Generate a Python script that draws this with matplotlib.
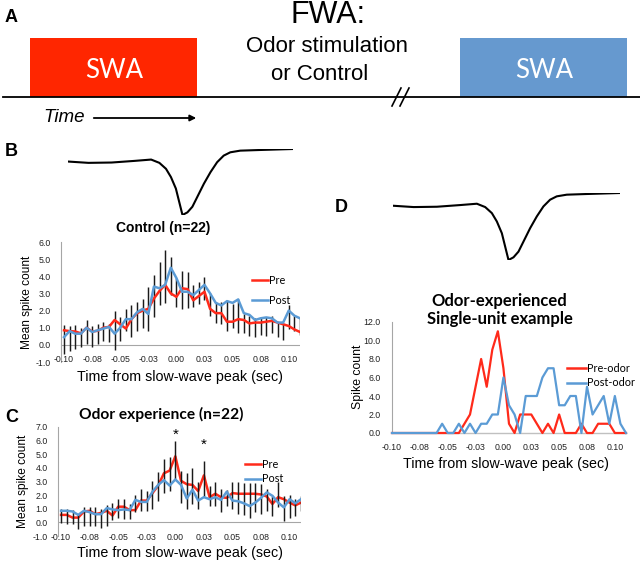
import matplotlib
matplotlib.use('Agg')
import matplotlib.pyplot as plt
from matplotlib.patches import Rectangle
import matplotlib.transforms as mtransforms

W, H = 640, 565

# ---------------- data ----------------
bin_times = [-0.100, -0.095, -0.090, -0.085, -0.080, -0.075, -0.070, -0.065, -0.060, -0.055,
             -0.050, -0.045, -0.040, -0.035, -0.030, -0.025, -0.020, -0.015, -0.010, -0.005,
             0.000, 0.005, 0.010, 0.015, 0.020, 0.025, 0.030, 0.035, 0.040, 0.045,
             0.050, 0.055, 0.060, 0.065, 0.070, 0.075, 0.080, 0.085, 0.090, 0.095,
             0.100, 0.105, 0.110]
xtick_vals = [-0.100, -0.075, -0.050, -0.025, 0.000, 0.025, 0.050, 0.075, 0.100]
xtick_labels = ['-0.10', '-0.08', '-0.05', '-0.03', '0.00', '0.03', '0.05', '0.08', '0.10']

ctrl_pre = [0.85, 0.8, 0.78, 0.67, 1.0, 0.78, 0.82, 1.0, 1.05, 1.45, 1.2, 0.95, 1.5, 1.85, 2.0,
            2.1, 2.7, 3.15, 3.5, 3.0, 2.8, 3.3, 3.25, 2.6, 2.85, 3.1, 2.1, 1.85, 1.85, 1.35,
            1.35, 1.5, 1.45, 1.25, 1.3, 1.3, 1.35, 1.4, 1.3, 1.2, 1.1, 0.9, 0.75]
ctrl_post = [0.45, 0.8, 0.65, 0.65, 1.0, 0.75, 0.85, 0.95, 1.05, 0.65, 1.0, 1.5, 1.5, 1.9, 2.1,
             1.8, 3.4, 3.3, 3.5, 4.5, 3.9, 3.1, 3.1, 2.9, 3.2, 3.5, 3.0, 2.45, 2.3, 2.55,
             2.45, 2.65, 1.85, 1.75, 1.45, 1.55, 1.6, 1.55, 1.3, 1.3, 2.0, 1.7, 1.55]
ctrl_err_hi = [1.15, 1.1, 1.15, 1.0, 1.45, 1.1, 1.2, 1.35, 1.2, 1.95, 1.6, 2.1, 2.3, 2.5, 2.7,
               3.4, 4.05, 4.85, 5.55, 5.1, 3.9, 4.3, 4.25, 3.5, 3.65, 3.95, 3.0, 2.5, 2.5, 2.6,
               2.4, 2.7, 1.8, 1.7, 1.55, 1.6, 1.65, 1.7, 1.35, 1.3, 2.35, 1.7, 1.6]
ctrl_err_lo = [-0.55, -0.35, -0.25, -0.15, 0.05, -0.15, 0.05, 0.25, 0.15, -0.3, 0.2, 0.8, 0.45,
               0.8, 1.0, 0.8, 1.6, 2.3, 2.45, 2.9, 2.2, 2.1, 2.15, 2.2, 2.4, 2.6, 1.7, 1.3, 1.2,
               0.8, 1.0, 0.7, 0.7, 0.5, 0.45, 0.6, 0.5, 0.7, 0.45, 0.3, 0.9, 0.8, 0.6]

odor_pre = [0.55, 0.55, 0.35, 0.35, 0.8, 0.85, 0.6, 0.7, 0.85, 0.5, 1.15, 1.15, 0.9, 0.9, 1.6,
            1.6, 2.15, 2.7, 3.6, 3.8, 4.85, 3.05, 2.8, 2.75, 2.3, 3.45, 1.85, 2.1, 1.85, 1.8,
            2.15, 2.1, 2.1, 2.1, 2.1, 2.05, 1.9, 1.35, 1.85, 1.7, 1.45, 1.25, 1.45]
odor_post = [0.85, 0.85, 0.8, 0.55, 0.85, 0.75, 0.6, 0.6, 1.05, 0.95, 0.9, 0.95, 0.9, 1.65, 1.5,
             1.5, 2.25, 2.75, 3.1, 2.7, 3.15, 2.75, 1.75, 2.4, 1.6, 1.85, 1.7, 1.85, 1.65, 2.25,
             1.6, 1.55, 1.4, 1.2, 1.45, 1.8, 2.2, 1.95, 1.45, 1.1, 1.7, 1.4, 1.7]
odor_err_hi = [0.95, 0.95, 0.9, 0.6, 1.15, 1.1, 1.15, 0.95, 1.3, 1.45, 1.7, 1.75, 1.35, 2.0, 2.45,
               2.3, 3.05, 3.7, 4.65, 4.8, 6.0, 3.8, 3.6, 4.0, 3.0, 4.5, 2.7, 3.0, 2.45, 2.4,
               2.95, 2.95, 2.9, 2.9, 2.9, 2.8, 2.45, 1.95, 3.0, 1.95, 2.0, 1.7, 1.95]
odor_err_lo = [-0.05, -0.1, -0.1, -0.45, -0.25, -0.25, -0.3, -0.4, -0.25, 0.2, 0.35, 0.25, 0.25,
               0.75, 0.8, 0.85, 0.95, 1.6, 2.15, 2.3, 3.2, 1.45, 1.0, 1.35, 1.0, 1.85, 1.2, 1.2,
               0.75, 1.2, 1.0, 0.6, 0.55, 0.35, 0.75, 0.6, 0.85, 0.5, 1.1, 0.1, 0.3, 0.5, 0.85]
odor_star_times = [0.000, 0.025]
odor_star_levels = [6.45, 5.7]

unit_pre = [0, 0, 0, 0, 0, 0, 0, 0, 0, 0, 0, 0, 0, 1, 2, 5, 8, 5, 9, 11, 7, 1, 0, 2, 2, 2, 1,
            0, 1, 0, 2, 0, 0, 0, 1, 0, 0, 1, 1, 1, 0, 0, 0]
unit_post = [0, 0, 0, 0, 0, 0, 0, 0, 0, 1, 0, 0, 1, 0, 1, 0, 1, 1, 2, 2, 6, 3, 2, 0, 4, 4, 4,
             6, 7, 7, 3, 3, 4, 4, 0, 5, 2, 3, 4, 1, 4, 1, 0]

# averaged slow-wave shape (arbitrary units)
wave_t = [0, 62, 132, 202, 252, 277, 297, 312, 327, 337, 347, 362, 377, 392, 412, 432, 452,
          472, 492, 522, 582, 682]
wave_v = [0.0, -0.4, -0.3, 0.2, 0.6, -0.4, -2.2, -4.7, -8.2, -12.2, -16.2, -15.4, -13.7,
          -10.7, -6.7, -3.2, -0.2, 1.8, 2.8, 3.3, 3.5, 3.8]

group_names = ['Pre', 'Post']
unit_names = ['Pre-odor', 'Post-odor']

# ---------------- style ----------------
RED = '#FF2A1A'
BLUE = '#5B9BD5'
AXC = '#A6A6A6'
SANS = 'Liberation Sans'
CAL = 'Lato'
TICKFS = 6.3

fig = plt.figure(figsize=(6.4, 5.65), dpi=100)


def px_rect(x0, y0, x1, y1):
    return [x0 / W, 1 - y1 / H, (x1 - x0) / W, (y1 - y0) / H]


ov = fig.add_axes([0, 0, 1, 1], zorder=10)
ov.set_xlim(0, W)
ov.set_ylim(H, 0)
ov.axis('off')
ov.patch.set_alpha(0)

# ---------------- panel A ----------------
ov.text(5, 17, 'A', fontsize=13, fontweight='bold', family=SANS, va='center', ha='left')
ov.add_patch(Rectangle((30, 38), 167, 59, color='#FF2600', lw=0))
ov.add_patch(Rectangle((460, 38), 167, 59, color='#6699CF', lw=0))
ov.text(114, 71, 'SWA', color='white', fontsize=18.5, family=CAL, ha='center', va='center')
ov.text(544, 71, 'SWA', color='white', fontsize=18.5, family=CAL, ha='center', va='center')
ov.plot([3, 640], [97, 97], color='black', lw=1.3)
ov.plot([392, 401], [106, 88], color='black', lw=1.2)
ov.plot([400, 409], [106, 88], color='black', lw=1.2)
ov.text(328, 15, 'FWA:', fontsize=22, family=SANS, ha='center', va='center')
ov.text(327, 46, 'Odor stimulation', fontsize=16, family=SANS, ha='center', va='center')
ov.text(320, 74, 'or Control', fontsize=16, family=SANS, ha='center', va='center')
ov.text(64, 117, 'Time', fontsize=13.5, family=SANS, style='italic', ha='center', va='center')
ov.annotate('', xy=(199, 118), xytext=(91, 118),
            arrowprops=dict(arrowstyle='-|>', color='black', lw=1.3, mutation_scale=9))

# ---------------- slow-wave traces ----------------
for box in [(68, 149, 293, 215), (393, 193, 620, 260)]:
    tax = fig.add_axes(px_rect(*box))
    tax.plot(wave_t, wave_v, color='black', lw=1.5, solid_capstyle='round')
    tax.set_xlim(min(wave_t), max(wave_t))
    tax.set_ylim(min(wave_v), max(wave_v))
    tax.axis('off')
    tax.patch.set_alpha(0)


# ---------------- line charts ----------------
def chart(box, s1, s2, lo, hi, ylim, yticks, ylabels, xlab_y, bars_under_red):
    ax = fig.add_axes(px_rect(*box))
    ax.patch.set_alpha(0)
    ax.set_xlim(-0.1027, 0.11)
    ax.set_ylim(*ylim)
    for sp in ['top', 'right', 'bottom']:
        ax.spines[sp].set_visible(False)
    ax.spines['left'].set_color(AXC)
    ax.spines['left'].set_linewidth(0.8)
    ax.axhline(0, color=AXC, lw=0.8, zorder=1)
    if lo is not None:
        ax.vlines(bin_times, lo, hi, color='#1a1a1a', lw=1.05,
                  zorder=4.5 if bars_under_red else 3)
    ax.plot(bin_times, s1, color=RED, lw=1.8, zorder=4)
    ax.plot(bin_times, s2, color=BLUE, lw=1.8, zorder=5)
    ax.set_yticks(yticks)
    ax.set_yticklabels(ylabels, fontsize=TICKFS, family=SANS, color='#222222')
    ax.tick_params(axis='y', length=0, pad=7.5)
    ax.set_xticks([])
    tr = mtransforms.blended_transform_factory(ax.transData, ov.transData)
    for v, lab in zip(xtick_vals, xtick_labels):
        ax.text(v, xlab_y, lab, transform=tr, fontsize=TICKFS, family=SANS, color='#222222',
                ha='center', va='center')
    return ax, tr


# B
axB, trB = chart((61, 242, 300, 362), ctrl_pre, ctrl_post, ctrl_err_lo, ctrl_err_hi,
                 (-1, 6), list(range(-1, 7)), ['%.1f' % v for v in range(-1, 7)], 360, False)
ov.text(5, 152, 'B', fontsize=13, fontweight='bold', family=SANS, va='center', ha='left')
ov.text(163, 228, 'Control (n=22)', fontsize=10, fontweight='bold', family=SANS,
        ha='center', va='center')
ov.text(27, 302, 'Mean spike count', fontsize=8.6, family=SANS, rotation=90,
        ha='center', va='center')
ov.text(180, 377, 'Time from slow-wave peak (sec)', fontsize=10.3, family=SANS,
        ha='center', va='center')
for yy, col, name in [(280, RED, group_names[0]), (300, BLUE, group_names[1])]:
    ov.plot([252, 268], [yy, yy], color=col, lw=1.8)
    ov.text(269, yy, name, fontsize=7.8, family=CAL, ha='left', va='center')

# C
axC, trC = chart((58, 427, 301, 536), odor_pre, odor_post, odor_err_lo, odor_err_hi,
                 (-1, 7), list(range(-1, 8)), ['%.1f' % v for v in range(-1, 8)], 537, True)
ov.text(5, 418, 'C', fontsize=13, fontweight='bold', family=SANS, va='center', ha='left')
ov.text(161, 414, 'Odor experience (n=22)', fontsize=11.2, fontweight='bold', family=CAL,
        ha='center', va='center')
ov.text(23, 481, 'Mean spike count', fontsize=8.6, family=SANS, rotation=90,
        ha='center', va='center')
ov.text(180, 553, 'Time from slow-wave peak (sec)', fontsize=10.3, family=SANS,
        ha='center', va='center')
for t, lvl in zip(odor_star_times, odor_star_levels):
    axC.text(t, lvl, '*', fontsize=11, family=SANS, ha='center', va='center')
for yy, col, name in [(464, RED, group_names[0]), (479, BLUE, group_names[1])]:
    ov.plot([245, 261], [yy, yy], color=col, lw=1.8)
    ov.text(262, yy, name, fontsize=7.8, family=CAL, ha='left', va='center')

# D
axD = fig.add_axes(px_rect(392, 322, 626, 433))
axD.patch.set_alpha(0)
axD.set_xlim(-0.1, 0.11)
axD.set_ylim(0, 12)
for sp in ['top', 'right']:
    axD.spines[sp].set_visible(False)
axD.spines['left'].set_color(AXC)
axD.spines['bottom'].set_color('#C0C0C0')
axD.spines['left'].set_linewidth(0.8)
axD.spines['bottom'].set_linewidth(1.0)
axD.plot(bin_times, unit_pre, color=RED, lw=1.6, zorder=4, clip_on=False)
axD.plot(bin_times, unit_post, color=BLUE, lw=1.6, zorder=5, clip_on=False)
axD.set_yticks(list(range(0, 13, 2)))
axD.set_yticklabels(['%.1f' % v for v in range(0, 13, 2)], fontsize=TICKFS, family=SANS,
                    color='#222222')
axD.tick_params(axis='y', length=0, pad=8)
axD.set_xticks([])
trD = mtransforms.blended_transform_factory(axD.transData, ov.transData)
for v, lab in zip(xtick_vals, xtick_labels):
    axD.text(v, 447, lab, transform=trD, fontsize=TICKFS, family=SANS, color='#222222',
             ha='center', va='center')
ov.text(335, 207, 'D', fontsize=13, fontweight='bold', family=SANS, va='center', ha='left')
ov.text(499, 301, 'Odor-experienced', fontsize=12, fontweight='bold', family=CAL,
        ha='center', va='center')
ov.text(500, 319, 'Single-unit example', fontsize=12, fontweight='bold', family=CAL,
        ha='center', va='center')
ov.text(358, 377, 'Spike count', fontsize=8.8, family=SANS, rotation=90, ha='center',
        va='center')
ov.text(506, 464, 'Time from slow-wave peak (sec)', fontsize=10.3, family=SANS,
        ha='center', va='center')
for yy, col, name in [(368, RED, unit_names[0]), (383, BLUE, unit_names[1])]:
    ov.plot([567, 586], [yy, yy], color=col, lw=1.8)
    ov.text(587, yy, name, fontsize=7.8, family=CAL, ha='left', va='center')

fig.savefig('out.png', dpi=100)
